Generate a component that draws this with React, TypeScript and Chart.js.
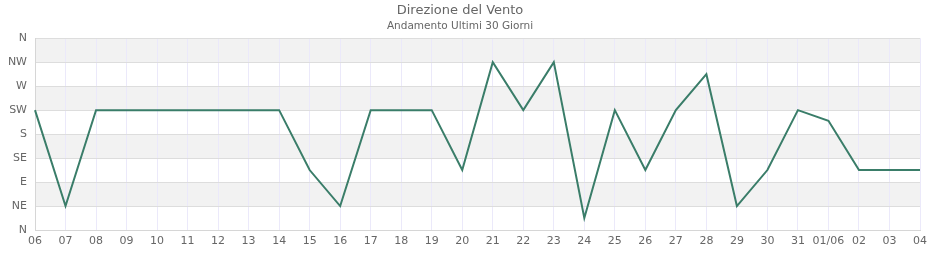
import React, { useEffect, useRef } from "react";
import { Chart, registerables } from "chart.js";

Chart.register(...registerables);

const categories = ["06","07","08","09","10","11","12","13","14","15","16","17","18","19","20","21","22","23","24","25","26","27","28","29","30","31","01/06","02","03","04"];
const direction = [225,45,225,225,225,225,225,225,225,112.5,45,225,225,225,112.5,315,225,315,22.5,225,112.5,225,292.5,45,112.5,225,205,112.5,112.5,112.5];
const directionLabels = ["N","NE","E","SE","S","SW","W","NW","N"];
const shadedBands = [[45,90],[135,180],[225,270],[315,360]];

const bandsPlugin = {
  id: "bands",
  beforeDraw(chart: any) {
    const { ctx, chartArea, scales } = chart;
    const y = scales.y;
    ctx.save();
    ctx.fillStyle = "#f2f2f2";
    shadedBands.forEach(([a, b]) => {
      const y1 = y.getPixelForValue(b);
      const y2 = y.getPixelForValue(a);
      ctx.fillRect(chartArea.left, y1, chartArea.right - chartArea.left, y2 - y1);
    });
    ctx.restore();
  },
};

export default function App() {
  const ref = useRef<HTMLCanvasElement>(null);
  useEffect(() => {
    document.body.style.margin = "0";
    const chart = new Chart(ref.current!, {
      type: "line",
      data: {
        labels: categories,
        datasets: [
          {
            data: direction,
            borderColor: "#3a7d69",
            borderWidth: 2,
            pointRadius: 0,
            fill: false,
            tension: 0,
          },
        ],
      },
      options: {
        animation: false,
        responsive: false,
        maintainAspectRatio: false,
        layout: { padding: { right: 20, left: 0, top: 0, bottom: 0 } },
        font: { family: "DejaVu Sans" },
        plugins: {
          legend: { display: false },
          tooltip: { enabled: false },
          title: {
            display: true,
            text: "Direzione del Vento",
            color: "#666",
            font: { family: "DejaVu Sans", size: 13, weight: "normal" },
            padding: { top: 3, bottom: 1 },
          },
          subtitle: {
            display: true,
            text: "Andamento Ultimi 30 Giorni",
            color: "#666",
            font: { family: "DejaVu Sans", size: 10.5, weight: "normal" },
            padding: { top: 0, bottom: 6 },
          },
        },
        scales: {
          x: {
            offset: false,
            grid: { color: "#ebe9fa", drawTicks: false },
            border: { color: "#d6d6d6" },
            ticks: {
              color: "#666",
              font: { family: "DejaVu Sans", size: 11 },
              maxRotation: 0,
              autoSkip: false,
              padding: 5,
            },
            afterFit(scale: any) { scale.height = 30; },
          },
          y: {
            min: 0,
            max: 360,
            grid: { color: "#dddddd", drawTicks: false },
            border: { color: "#d6d6d6" },
            ticks: {
              stepSize: 45,
              color: "#666",
              font: { family: "DejaVu Sans", size: 11 },
              padding: 8,
              callback: (v: any) => directionLabels[Math.round(Number(v) / 45)],
            },
            afterFit(scale: any) { scale.width = 35; },
          },
        },
      },
      plugins: [bandsPlugin],
    } as any);
    return () => chart.destroy();
  }, []);
  return <canvas ref={ref} width={940} height={260} style={{ display: "block" }} />;
}
